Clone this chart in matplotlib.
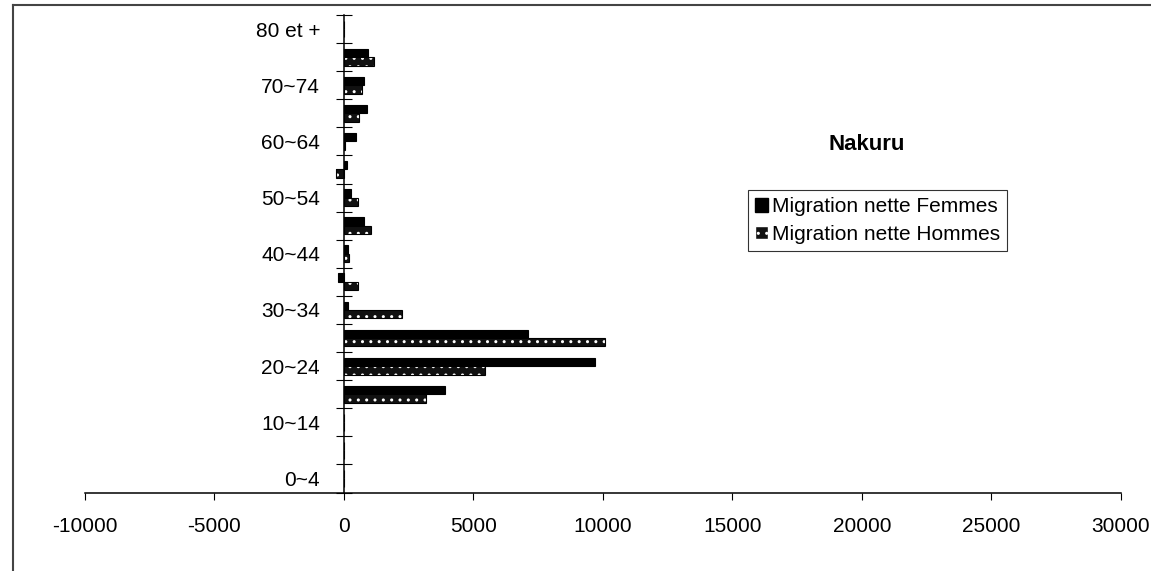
import numpy as np
import matplotlib.pyplot as plt
from matplotlib.lines import Line2D
from matplotlib.patches import Patch

plt.rcParams['font.family'] = ['Liberation Sans', 'DejaVu Sans']

ages = ['0~4', '5~9', '10~14', '15~19', '20~24', '25~29', '30~34', '35~39',
        '40~44', '45~49', '50~54', '55~59', '60~64', '65~69', '70~74',
        '75~79', '80 et +']
femmes = [0, 0, 0, 3920, 9720, 7130, 150, -200, 150, 800, 280, 120, 480,
          910, 780, 930, 0]
hommes = [0, 0, 0, 3160, 5470, 10070, 2250, 560, 200, 1050, 560, -310, 50,
          590, 710, 1170, 0]
x_ticks = [-10000, -5000, 0, 5000, 10000, 15000, 20000, 25000, 30000]

fig = plt.figure(figsize=(11.51, 5.71), dpi=100)
ax = fig.add_axes([84.5 / 1151, (571 - 492.5) / 571, 1036.5 / 1151, 477.5 / 571])

y = np.arange(len(ages))
h = 0.3
ax.barh(y + h / 2, femmes, height=h, color='black', edgecolor='black', linewidth=0.8)
ax.barh(y - h / 2, hommes, height=h, color='#111111', edgecolor='white',
        hatch='..', linewidth=0)
ax.barh(y - h / 2, hommes, height=h, fill=False, edgecolor='black', linewidth=0.8)

ax.set_xlim(-10000, 30000)
ax.set_ylim(-0.5, len(ages) - 0.5)

for s in ['top', 'right']:
    ax.spines[s].set_visible(False)
ax.spines['left'].set_position(('data', 0))
ax.spines['bottom'].set_linewidth(1.1)
ax.spines['left'].set_linewidth(1.1)

ax.set_xticks(x_ticks)
ax.set_xticklabels([str(v) for v in x_ticks], fontsize=15)
ax.tick_params(axis='x', direction='out', length=5, pad=13)

# category boundaries as major ticks, labels every other category
ax.set_yticks(np.arange(-0.5, len(ages), 1.0))
ax.set_yticklabels([])
ax.tick_params(axis='y', which='major', direction='inout', length=12)
ax.set_yticks(y[::2], minor=True)
ax.set_yticklabels(ages[::2], minor=True, fontsize=15)
ax.tick_params(axis='y', which='minor', length=0, pad=17)

fig.text(867 / 1151, 1 - 145 / 571, 'Nakuru', fontsize=16, fontweight='bold',
         ha='center', va='center')

handles = [Patch(facecolor='black', edgecolor='black'),
           Patch(facecolor='#111111', edgecolor='white', hatch='..')]
leg = ax.legend(handles, ['Migration nette Femmes', 'Migration nette Hommes'],
                loc='upper left', bbox_to_anchor=(748 / 1151, 1 - 190 / 571),
                bbox_transform=fig.transFigure, fontsize=15, frameon=True,
                fancybox=False, edgecolor='black', handlelength=0.6,
                handleheight=0.6, handletextpad=0.2, borderpad=0.35,
                labelspacing=0.4, borderaxespad=0)
leg.get_frame().set_linewidth(0.8)

# outer frame of the scanned chart
fig.add_artist(Line2D([13 / 1151, 1], [1 - 5 / 571] * 2, color='#444444', lw=1.5))
fig.add_artist(Line2D([13 / 1151] * 2, [0, 1 - 5 / 571], color='#444444', lw=1.5))

fig.savefig('out.png', dpi=100)
